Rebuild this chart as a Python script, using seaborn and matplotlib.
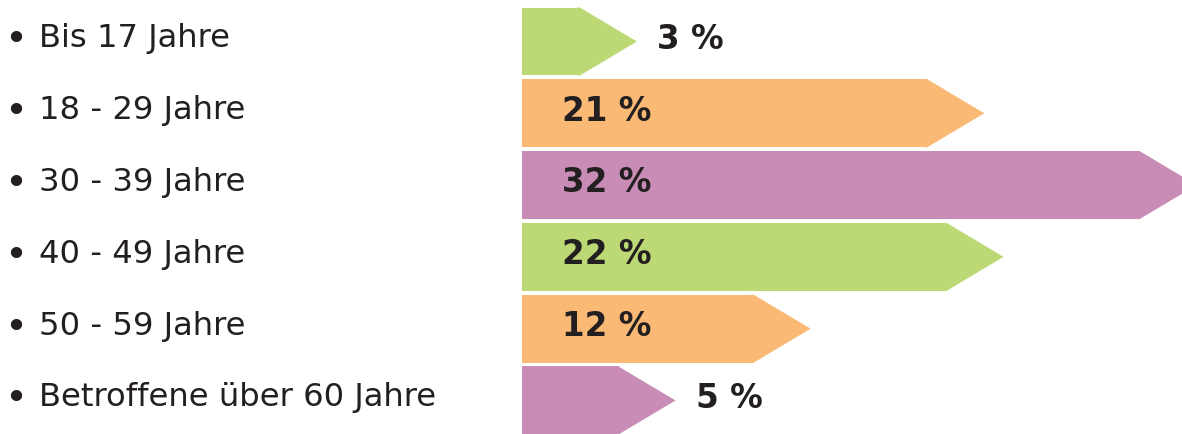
import matplotlib
matplotlib.use("Agg")
import matplotlib.pyplot as plt
import matplotlib.transforms as mtransforms
from matplotlib.patches import Polygon
import seaborn as sns
import pandas as pd

categories = ["Bis 17 Jahre", "18 - 29 Jahre", "30 - 39 Jahre",
              "40 - 49 Jahre", "50 - 59 Jahre", "Betroffene über 60 Jahre"]
values = [3, 21, 32, 22, 12, 5]
value_labels = ["3 %", "21 %", "32 %", "22 %", "12 %", "5 %"]
colors = ["#bdd975", "#fab974", "#c88cb6", "#bdd975", "#fab974", "#c88cb6"]

sns.set_theme(style="white")
plt.rcParams["font.family"] = ["DejaVu Sans"]

df = pd.DataFrame({"cat": categories, "val": values})

W, H = 1182, 435
fig = plt.figure(figsize=(W / 100, H / 100), dpi=100)
ax = fig.add_axes([522 / W, 0, 660 / W, 1])

sns.barplot(data=df, x="val", y="cat", hue="cat", palette=colors,
            width=0.947, dodge=False, legend=False, saturation=1,
            linewidth=0, ax=ax)

ax.set_xlim(0, 660 / 19.3)
ax.set_ylim(5.467, -0.592)
ax.axis("off")

tip = 57 / 19.3
for p, v, lab in zip(ax.patches, values, value_labels):
    x1 = p.get_x() + p.get_width()
    y0 = p.get_y()
    y1 = y0 + p.get_height()
    yc = (y0 + y1) / 2
    tri = Polygon([(x1 - 0.15, y0), (x1, y0), (x1 + tip, yc), (x1, y1),
                   (x1 - 0.15, y1)],
                  closed=True, facecolor=p.get_facecolor(), edgecolor="none",
                  clip_on=False)
    ax.add_patch(tri)
    if v >= 10:
        tx = 40 / 19.3
    else:
        tx = x1 + tip + 20 / 19.3
    ax.text(tx, yc - 0.045, lab, ha="left", va="center", fontsize=23.5,
            fontweight="bold", color="#231f20")

trans = mtransforms.blended_transform_factory(fig.transFigure, ax.transData)
for i, cat in enumerate(categories):
    yc = i
    ax.text(16 / W, yc - 0.03, "•", transform=trans, ha="center", va="center",
            fontsize=28, color="#231f20")
    ax.text(39 / W, yc - 0.05, cat, transform=trans, ha="left", va="center",
            fontsize=23.2, color="#231f20")

fig.savefig("out.png", dpi=100)
